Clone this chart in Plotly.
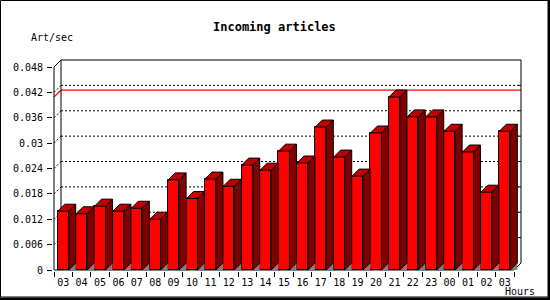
import plotly.graph_objects as go

# ---------------- data ----------------
hours = ["03", "04", "05", "06", "07", "08", "09", "10", "11", "12", "13", "14", "15",
         "16", "17", "18", "19", "20", "21", "22", "23", "00", "01", "02", "03"]
art_per_sec = [0.0139, 0.0133, 0.0151, 0.0139, 0.0146, 0.0120, 0.0213, 0.0169, 0.0215,
               0.0198, 0.0248, 0.0236, 0.0281, 0.0253, 0.0338, 0.0267, 0.0222, 0.0324,
               0.0409, 0.0362, 0.0362, 0.0328, 0.0279, 0.0184, 0.0328]
y_tick_vals = [0, 0.006, 0.012, 0.018, 0.024, 0.030, 0.036, 0.042, 0.048]
y_tick_text = ["0", "0.006", "0.012", "0.018", "0.024", "0.03", "0.036", "0.042", "0.048"]
title_text = "Incoming articles"
y_title = "Art/sec"
x_title = "Hours"

# ---------------- geometry ----------------
FW, FH = 550, 300
L, R, T, B = 53, 27, 58, 29
PW, PH = FW - L - R, FH - T - B
n = len(hours)
DEPTH = 7.0          # px of 3D offset
PAD_R, PAD_T, PAD_L, PAD_B = 2.0, 2.0, 1.0, 1.0
slot_px = (PW - DEPTH - PAD_R - PAD_L) / n
sy = (PH - DEPTH - PAD_T - PAD_B) / y_tick_vals[-1]
dx = DEPTH / slot_px
dy = DEPTH / sy
x_lo = -0.5 - PAD_L / slot_px
x_hi = n - 0.5 + dx + PAD_R / slot_px
y_lo = -PAD_B / sy
y_hi = y_tick_vals[-1] + dy + PAD_T / sy
ymax_axis = y_tick_vals[-1]
BW = 0.6             # bar front width (category units)
hw = BW / 2

RED = "#ff0000"
SIDE = "#800000"
TOP = "#c00000"
FONT = "DejaVu Sans Mono"

xs = list(range(n))

# side / top / floor polygons derived from the data
side_x, side_y, top_x, top_y, fl_x, fl_y = [], [], [], [], [], []
for i, v in zip(xs, art_per_sec):
    xl, xr = i - hw, i + hw
    side_x += [xr, xr + dx, xr + dx, xr, xr, None]
    side_y += [0, dy, v + dy, v, 0, None]
    top_x += [xl, xl + dx, xr + dx, xr, xl, None]
    top_y += [v, v + dy, v + dy, v, v, None]
    fl_x += [xr, xr + dx, xr + dx, xr, None]
    fl_y += [0, dy, 0, 0, None]

fig = go.Figure()
fig.add_trace(go.Scatter(x=fl_x, y=fl_y, mode="lines", fill="toself",
                         fillcolor="#808080", line=dict(width=0, color="#808080"),
                         hoverinfo="skip", showlegend=False))
fig.add_trace(go.Bar(x=xs, y=art_per_sec, width=BW, marker=dict(color=RED, line=dict(color="black", width=1)),
                     showlegend=False))
fig.add_trace(go.Scatter(x=side_x, y=side_y, mode="lines", fill="toself", fillcolor=SIDE,
                         line=dict(color="black", width=1), hoverinfo="skip", showlegend=False))
fig.add_trace(go.Scatter(x=top_x, y=top_y, mode="lines", fill="toself", fillcolor=TOP,
                         line=dict(color="black", width=1), hoverinfo="skip", showlegend=False))

shapes = []
bx0, bx1 = -0.5 + dx, n - 0.5 + dx
# dotted grid on back wall + connectors to front axis + right ticks
for v in y_tick_vals[1:-1]:
    shapes.append(dict(type="line", x0=bx0, x1=bx1, y0=v + dy, y1=v + dy,
                       line=dict(color="black", width=1, dash="2px,2px"), layer="below"))
    shapes.append(dict(type="line", x0=-0.5, x1=bx0, y0=v, y1=v + dy,
                       line=dict(color="black", width=1, dash="2px,2px"), layer="below"))
    shapes.append(dict(type="line", x0=bx1 - 3 / slot_px, x1=bx1, y0=v + dy, y1=v + dy,
                       line=dict(color="black", width=1), layer="below"))
# max line
vmax = max(art_per_sec)
shapes.append(dict(type="path", path=f"M{-0.5},{vmax} L{bx0},{vmax + dy} L{bx1},{vmax + dy}",
                   line=dict(color=RED, width=1.3), layer="below"))
# back wall and axes frame
frame_path = (f"M{bx0},{dy} L{bx0},{ymax_axis + dy} L{bx1},{ymax_axis + dy} L{bx1},{dy} "
              f"M{-0.5},{ymax_axis} L{bx0},{ymax_axis + dy} "
              f"M{-0.5},{ymax_axis} L{-0.5},0 L{n - 0.5},0 L{bx1},{dy}")
shapes.append(dict(type="path", path=frame_path, line=dict(color="black", width=1), layer="below"))


def px_to_paper_x(p):
    return (p - L) / PW


def px_to_paper_y(q):
    return (FH - B - q) / PH


# outer border with shadow
shapes.append(dict(type="rect", xref="paper", yref="paper",
                   x0=px_to_paper_x(0.5), x1=px_to_paper_x(548), y0=px_to_paper_y(0.5), y1=px_to_paper_y(297),
                   line=dict(color="black", width=1), fillcolor="rgba(0,0,0,0)", layer="above"))
shapes.append(dict(type="rect", xref="paper", yref="paper",
                   x0=px_to_paper_x(548), x1=px_to_paper_x(550), y0=px_to_paper_y(0), y1=px_to_paper_y(300),
                   line=dict(width=0), fillcolor="black", layer="above"))
shapes.append(dict(type="rect", xref="paper", yref="paper",
                   x0=px_to_paper_x(0), x1=px_to_paper_x(550), y0=px_to_paper_y(297.5), y1=px_to_paper_y(300),
                   line=dict(width=0), fillcolor="black", layer="above"))

annotations = [
    dict(text=f"<b>{title_text}</b>", xref="paper", yref="paper", x=px_to_paper_x(274), y=px_to_paper_y(27),
         xanchor="center", yanchor="middle", showarrow=False, font=dict(family=FONT, size=12, color="black")),
    dict(text=y_title, xref="paper", yref="paper", x=px_to_paper_x(29), y=px_to_paper_y(37.5),
         xanchor="left", yanchor="middle", showarrow=False, font=dict(family=FONT, size=10, color="black")),
    dict(text=x_title, xref="paper", yref="paper", x=px_to_paper_x(503), y=px_to_paper_y(291.5),
         xanchor="left", yanchor="middle", showarrow=False, font=dict(family=FONT, size=10, color="black")),
]

fig.update_layout(
    width=FW, height=FH, margin=dict(l=L, r=R, t=T, b=B, pad=0),
    paper_bgcolor="white", plot_bgcolor="white",
    shapes=shapes, annotations=annotations, bargap=0,
    xaxis=dict(range=[x_lo, x_hi], tickmode="array", tickvals=xs, ticktext=hours, ticks="",
               showgrid=False, zeroline=False, showline=False, ticklabelstandoff=4,
               tickfont=dict(family=FONT, size=10, color="black"),
               minor=dict(tickmode="array", tickvals=[i - 0.5 for i in range(n + 1)], ticks="outside",
                          ticklen=5, tickcolor="black", tickwidth=1, showgrid=False)),
    yaxis=dict(range=[y_lo, y_hi], tickmode="array", tickvals=y_tick_vals, ticktext=y_tick_text,
               ticks="outside", ticklen=5, tickcolor="black", tickwidth=1,
               showgrid=False, zeroline=False, showline=False, ticklabelstandoff=2,
               tickfont=dict(family=FONT, size=10, color="black")),
)

fig.write_html("out.html")
